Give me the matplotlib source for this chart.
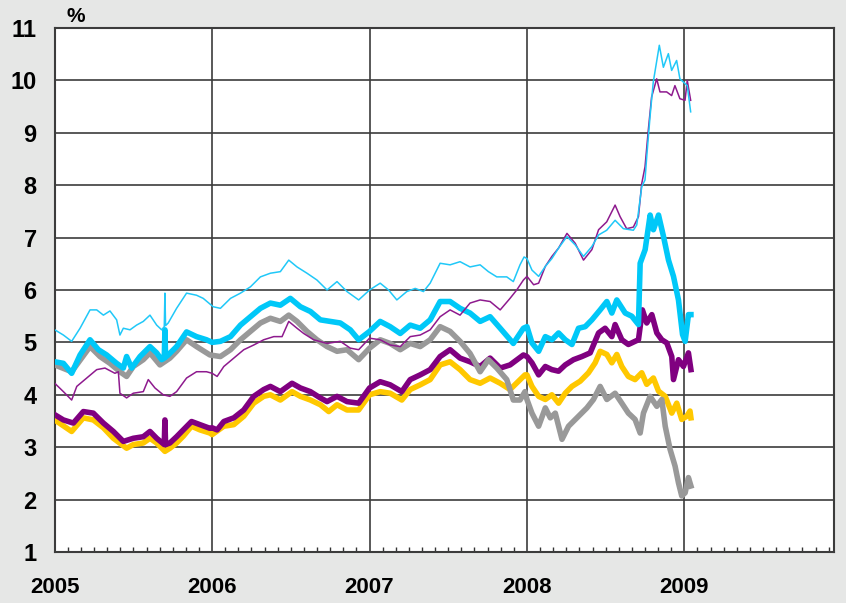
import matplotlib
matplotlib.use("Agg")
import numpy as np
import matplotlib.pyplot as plt
from matplotlib.ticker import MultipleLocator, FixedLocator

# x values are months since January 2005, y values in %
cyan_thin_m = [0.0, 0.66, 1.29, 1.93, 2.69, 3.2, 3.71, 4.21, 4.72, 4.97, 5.23, 5.74, 6.24, 6.75, 7.26, 7.77, 8.15, 8.35, 8.4, 8.45, 8.65, 9.29, 10.05, 10.81, 11.32, 12.08,
               12.63, 13.4, 14.16, 14.92, 15.68, 16.44, 17.2, 17.84, 18.47, 19.23, 19.99, 20.76, 21.52, 22.28, 23.17, 24.0,
               24.81, 25.45, 26.08, 26.84, 27.48, 28.11, 28.62, 29.38, 30.14, 30.9, 31.66, 32.43, 33.06, 33.7, 34.46, 34.96, 35.47, 35.78,
               36.0, 36.38, 36.89, 37.4, 37.9, 38.41, 39.05, 39.68, 40.31, 40.95, 41.46, 42.08, 42.72, 43.35, 44.11, 44.37, 44.75, 45.0, 45.13, 45.38,
               45.63, 46.09, 46.4, 46.78, 47.03, 47.41, 47.66, 48.22, 48.48]
cyan_thin_v = [5.24, 5.14, 5.02, 5.27, 5.62, 5.62, 5.52, 5.6, 5.43, 5.14, 5.27, 5.24, 5.33, 5.4, 5.52, 5.33, 5.24, 5.3, 5.94, 5.32, 5.37, 5.65, 5.94, 5.9, 5.84, 5.68,
               5.65, 5.84, 5.94, 6.06, 6.25, 6.32, 6.35, 6.57, 6.44, 6.32, 6.19, 6.0, 6.16, 5.97, 5.81, 6.0,
               6.13, 6.0, 5.81, 5.97, 6.03, 5.97, 6.13, 6.51, 6.48, 6.54, 6.44, 6.48, 6.35, 6.25, 6.25, 6.16, 6.48, 6.63,
               6.6, 6.38, 6.26, 6.45, 6.6, 6.8, 7.02, 6.86, 6.64, 6.83, 7.05, 7.14, 7.33, 7.17, 7.14, 7.24, 7.97, 8.1, 8.54, 9.3,
               9.97, 10.67, 10.25, 10.51, 10.19, 10.38, 10.03, 9.9, 9.4]

purple_thin_m = [0.0, 0.66, 1.29, 1.68, 2.44, 3.2, 3.83, 4.59, 4.85, 4.97, 5.48, 5.99, 6.75, 7.13, 7.64, 8.27, 8.78, 9.29, 10.05, 10.81, 11.57, 12.0,
                 12.38, 12.89, 13.65, 14.41, 15.17, 15.93, 16.7, 17.33, 17.84, 18.47, 18.98, 19.74, 20.76, 21.77, 22.53, 23.17, 24.0,
                 24.81, 25.57, 26.34, 27.1, 27.86, 28.62, 29.38, 30.14, 30.9, 31.66, 32.43, 33.19, 33.96, 34.71, 35.22, 35.73,
                 36.0, 36.51, 36.89, 37.4, 37.9, 38.41, 39.05, 39.68, 40.31, 40.95, 41.46, 42.08, 42.72, 43.1, 43.6, 44.11, 44.5, 44.75, 45.0, 45.25,
                 45.5, 45.89, 46.14, 46.65, 47.03, 47.28, 47.66, 48.05, 48.22, 48.48]
purple_thin_v = [4.22, 4.06, 3.9, 4.16, 4.32, 4.48, 4.51, 4.41, 4.44, 4.03, 3.94, 4.03, 4.06, 4.29, 4.13, 4.0, 3.97, 4.06, 4.32, 4.44, 4.44, 4.41,
                 4.35, 4.54, 4.7, 4.86, 4.95, 5.05, 5.11, 5.11, 5.4, 5.27, 5.17, 5.05, 4.98, 5.02, 4.89, 4.86, 5.08,
                 5.05, 4.95, 4.92, 5.11, 5.14, 5.24, 5.49, 5.62, 5.52, 5.75, 5.81, 5.78, 5.62, 5.84, 6.0, 6.19,
                 6.26, 6.1, 6.13, 6.45, 6.64, 6.8, 7.08, 6.89, 6.57, 6.77, 7.15, 7.3, 7.62, 7.4, 7.17, 7.2, 7.4, 8.03, 8.35, 9.05,
                 9.68, 10.03, 9.78, 9.78, 9.71, 9.9, 9.65, 9.62, 10.0, 9.62]

cyan_thick_m = [0.0, 0.66, 1.29, 1.93, 2.69, 3.33, 3.96, 4.72, 5.23, 5.48, 5.86, 6.5, 7.26, 7.77, 8.15, 8.35, 8.4, 8.45, 8.65, 9.29, 10.05, 10.81, 11.57,
                12.0, 12.63, 13.4, 14.16, 14.92, 15.68, 16.44, 17.2, 17.96, 18.73, 19.49, 20.25, 21.01, 21.77, 22.53, 23.17, 24.0,
                24.81, 25.57, 26.34, 27.1, 27.86, 28.62, 29.38, 30.14, 30.9, 31.66, 32.43, 33.19, 33.96, 34.96, 35.73,
                36.0, 36.38, 36.89, 37.4, 37.9, 38.41, 38.92, 39.43, 39.93, 40.44, 40.95, 41.58, 42.09, 42.47, 42.85, 43.49, 43.99, 44.5, 44.63, 45.01,
                45.39, 45.64, 46.03, 46.41, 46.79, 47.17, 47.55, 47.86, 48.06, 48.31, 48.5]
cyan_thick_v = [4.63, 4.6, 4.41, 4.76, 5.05, 4.86, 4.76, 4.6, 4.51, 4.73, 4.51, 4.73, 4.92, 4.8, 4.67, 4.7, 5.24, 4.72, 4.76, 4.92, 5.2, 5.11, 5.05,
                5.0, 5.02, 5.11, 5.33, 5.49, 5.65, 5.75, 5.71, 5.84, 5.68, 5.59, 5.43, 5.4, 5.37, 5.24, 5.05, 5.21,
                5.4, 5.3, 5.17, 5.33, 5.27, 5.43, 5.78, 5.78, 5.65, 5.56, 5.4, 5.49, 5.27, 4.98, 5.27,
                5.3, 4.99, 4.83, 5.11, 5.05, 5.18, 5.05, 4.96, 5.27, 5.3, 5.43, 5.62, 5.78, 5.56, 5.81, 5.56, 5.5, 5.34, 6.51, 6.77,
                7.43, 7.15, 7.43, 7.02, 6.57, 6.26, 5.81, 5.15, 5.02, 5.53, 5.53]

gray_m = [0.0, 1.29, 2.69, 3.45, 4.21, 4.97, 5.48, 5.99, 6.75, 7.26, 8.02, 8.78, 9.29, 10.05, 10.81, 11.83,
          12.63, 13.4, 14.16, 14.92, 15.68, 16.44, 17.2, 17.84, 18.47, 19.23, 19.99, 20.76, 21.52, 22.28, 23.17, 24.0,
          24.81, 25.57, 26.34, 27.1, 27.86, 28.62, 29.38, 30.14, 30.9, 31.66, 32.43, 33.06, 33.7, 34.46, 34.96, 35.47, 35.85,
          36.0, 36.38, 36.89, 37.4, 37.78, 38.16, 38.67, 39.17, 39.93, 40.57, 41.07, 41.58, 42.09, 42.72, 43.23, 43.73, 44.24, 44.63, 44.88, 45.39,
          45.9, 46.28, 46.54, 46.91, 47.29, 47.55, 47.8, 48.06, 48.31, 48.5]
gray_v = [4.57, 4.44, 4.92, 4.73, 4.6, 4.44, 4.35, 4.54, 4.67, 4.8, 4.57, 4.7, 4.83, 5.05, 4.92, 4.76,
          4.73, 4.86, 5.05, 5.21, 5.37, 5.46, 5.4, 5.52, 5.4, 5.21, 5.05, 4.92, 4.83, 4.86, 4.67, 4.89,
          5.05, 4.98, 4.86, 4.98, 4.92, 5.05, 5.3, 5.21, 5.02, 4.79, 4.44, 4.67, 4.51, 4.29, 3.9, 3.9, 4.06,
          3.91, 3.65, 3.4, 3.75, 3.56, 3.65, 3.15, 3.4, 3.59, 3.75, 3.91, 4.16, 3.91, 4.03, 3.84, 3.65, 3.53, 3.27, 3.65, 3.97,
          3.78, 3.91, 3.4, 2.96, 2.64, 2.32, 2.07, 2.13, 2.42, 2.26]

purple_thick_m = [0.0, 0.66, 1.42, 2.18, 2.94, 3.71, 4.47, 5.23, 5.99, 6.75, 7.26, 7.77, 8.35, 8.4, 8.45, 8.78, 9.29, 9.8, 10.43, 11.07, 11.83,
                  12.0, 12.38, 12.89, 13.65, 14.41, 15.17, 15.93, 16.44, 17.2, 18.09, 18.73, 19.49, 20.25, 20.76, 21.52, 22.28, 23.17, 24.0,
                  24.81, 25.57, 26.46, 27.1, 27.86, 28.62, 29.38, 30.14, 30.9, 31.66, 32.43, 33.19, 33.96, 34.71, 35.73,
                  36.0, 36.38, 36.89, 37.4, 37.9, 38.41, 38.92, 39.55, 40.19, 40.82, 41.46, 41.96, 42.47, 42.72, 43.23, 43.73, 44.24, 44.5, 44.8, 45.13,
                  45.52, 45.9, 46.28, 46.66, 47.04, 47.17, 47.55, 47.93, 48.31, 48.5]
purple_thick_v = [3.62, 3.52, 3.46, 3.68, 3.65, 3.46, 3.3, 3.11, 3.17, 3.2, 3.3, 3.17, 3.05, 3.52, 3.05, 3.08, 3.2, 3.33, 3.49, 3.43, 3.36,
                  3.37, 3.33, 3.49, 3.56, 3.71, 3.97, 4.1, 4.16, 4.06, 4.22, 4.13, 4.06, 3.94, 3.87, 3.97, 3.87, 3.84, 4.13,
                  4.25, 4.19, 4.06, 4.29, 4.38, 4.48, 4.73, 4.86, 4.7, 4.63, 4.54, 4.7, 4.51, 4.57, 4.76,
                  4.73, 4.61, 4.38, 4.54, 4.48, 4.45, 4.57, 4.67, 4.73, 4.8, 5.18, 5.27, 5.11, 5.34, 5.05, 4.96, 5.02, 5.05, 5.62, 5.37,
                  5.53, 5.18, 5.05, 4.99, 4.73, 4.29, 4.67, 4.54, 4.8, 4.48]

yellow_m = [0.0, 1.29, 2.18, 2.94, 3.71, 4.47, 5.48, 5.99, 6.75, 7.26, 7.77, 8.4, 8.78, 9.29, 9.8, 10.43, 11.07, 11.83,
            12.0, 12.89, 13.65, 14.41, 15.17, 15.93, 16.44, 17.2, 18.09, 18.73, 19.49, 20.25, 20.89, 21.52, 22.28, 23.17, 24.0,
            24.81, 25.57, 26.46, 27.1, 27.86, 28.62, 29.38, 30.14, 30.9, 31.66, 32.43, 33.19, 33.96, 34.71, 35.85,
            36.0, 36.38, 36.89, 37.4, 37.9, 38.41, 38.92, 39.43, 40.06, 40.69, 41.2, 41.58, 42.09, 42.47, 42.85, 43.23, 43.73, 44.24, 44.75, 45.13,
            45.64, 46.03, 46.54, 47.04, 47.42, 47.8, 48.18, 48.43, 48.5]
yellow_v = [3.52, 3.3, 3.56, 3.52, 3.37, 3.17, 2.98, 3.05, 3.08, 3.17, 3.08, 2.92, 2.98, 3.08, 3.21, 3.4, 3.33, 3.27,
            3.24, 3.4, 3.43, 3.59, 3.84, 3.97, 4.0, 3.9, 4.06, 3.97, 3.9, 3.81, 3.68, 3.81, 3.71, 3.71, 4.0,
            4.06, 4.03, 3.9, 4.1, 4.19, 4.29, 4.57, 4.63, 4.48, 4.29, 4.22, 4.32, 4.22, 4.1, 4.38,
            4.38, 4.16, 3.97, 3.91, 4.0, 3.84, 4.03, 4.16, 4.26, 4.42, 4.61, 4.83, 4.77, 4.61, 4.77, 4.54, 4.35, 4.29, 4.42, 4.2,
            4.32, 4.07, 3.97, 3.65, 3.84, 3.53, 3.59, 3.69, 3.56]

year_labels = ["2005", "2006", "2007", "2008", "2009"]
y_ticks = list(range(1, 12))

plt.rcParams["font.family"] = ["Liberation Sans Narrow", "Liberation Sans", "DejaVu Sans"]
plt.rcParams["font.weight"] = "bold"

fig = plt.figure(figsize=(8.46, 6.03), dpi=100, facecolor="#e6e7e6")
ax = fig.add_axes([0.0647, 0.0846, 0.921, 0.869])
ax.set_facecolor("white")


def yrs(m):
    return 2005 + np.array(m) / 12.0


# drawing order: thick lines first, thin lines on top
ax.plot(yrs(yellow_m), yellow_v, color="#ffc800", lw=4.0, solid_joinstyle="round", zorder=3)
ax.plot(yrs(purple_thick_m), purple_thick_v, color="#800080", lw=4.0, solid_joinstyle="round", zorder=3)
ax.plot(yrs(gray_m), gray_v, color="#999999", lw=4.0, solid_joinstyle="round", zorder=3)
ax.plot(yrs(cyan_thick_m), cyan_thick_v, color="#00c8f8", lw=4.0, solid_joinstyle="round", zorder=3)
ax.plot(yrs(purple_thin_m), purple_thin_v, color="#8e1a8e", lw=1.1, zorder=4)
ax.plot(yrs(cyan_thin_m), cyan_thin_v, color="#20c8f8", lw=1.1, zorder=4)

ax.set_xlim(2005, 2005 + 59.4 / 12)
ax.set_ylim(1, 11)

years = [2005 + i for i in range(len(year_labels))]
ax.xaxis.set_major_locator(FixedLocator(years))
ax.set_xticklabels(year_labels)
ax.xaxis.set_minor_locator(MultipleLocator(1 / 12))
ax.set_yticks(y_ticks)
ax.set_yticklabels([str(v) for v in y_ticks])

ax.tick_params(axis="x", which="major", length=0, pad=18, labelsize=16)
ax.tick_params(axis="x", which="minor", direction="in", length=3.5, width=1.0, color="#333333")
ax.tick_params(axis="y", length=0, pad=13, labelsize=17)

ax.grid(True, which="major", color="#3c3c3c", lw=1.2, zorder=1)
for s in ax.spines.values():
    s.set_color("#3c3c3c")
    s.set_linewidth(1.5)

fig.text(76 / 846, 1 - 16 / 603, "%", ha="center", va="center", fontsize=15, fontweight="bold")

fig.savefig("out.png", dpi=100, facecolor=fig.get_facecolor())
